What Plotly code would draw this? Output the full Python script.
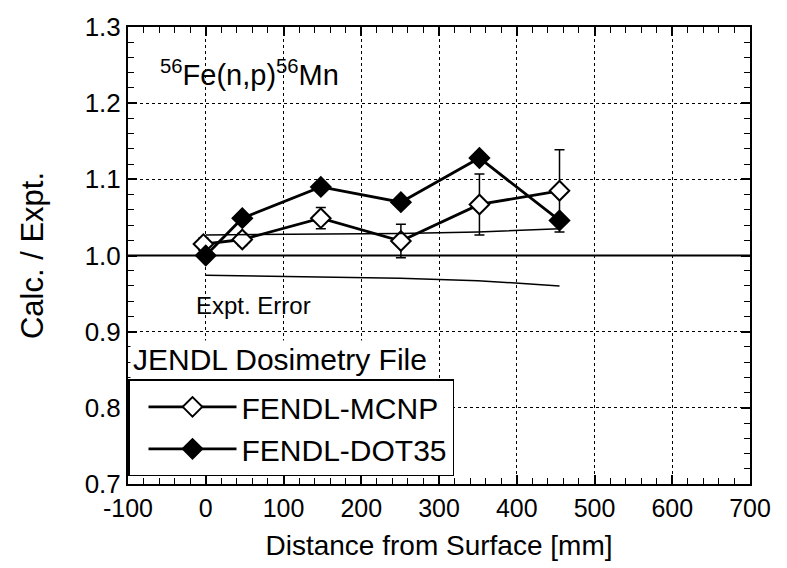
import plotly.graph_objects as go

# Distances from the assembly surface [mm] and calculated / experimental ratios
distance_mcnp = [-3, 47, 148, 251, 352, 455]
ratio_mcnp = [1.015, 1.021, 1.049, 1.019, 1.067, 1.085]
error_mcnp = [0.008, 0.008, 0.014, 0.022, 0.040, 0.054]

distance_dot = [0, 47, 148, 251, 352, 455]
ratio_dot = [1.000, 1.049, 1.090, 1.070, 1.128, 1.046]

# Experimental error band
expt_distance = [0, 150, 250, 350, 455]
expt_upper = [1.027, 1.028, 1.029, 1.031, 1.035]
expt_lower = [0.974, 0.972, 0.970, 0.967, 0.960]

x_ticks = [-100, 0, 100, 200, 300, 400, 500, 600, 700]
x_tick_labels = ["-100", "0", "100", "200", "300", "400", "500", "600", "700"]

FONT = "Liberation Sans, Arial, Helvetica, sans-serif"

fig = go.Figure()

# Unity reference line
fig.add_shape(type="line", xref="paper", x0=0, x1=1, yref="y", y0=1.0, y1=1.0,
              line=dict(color="black", width=2), layer="above")

# Error band lines live on the labelled overlay x axis (same range as x)
for band in (expt_upper, expt_lower):
    fig.add_trace(go.Scatter(
        x=expt_distance, y=band, mode="lines", xaxis="x2", yaxis="y",
        line=dict(color="black", width=1.5),
        showlegend=False, hoverinfo="skip"))

fig.add_trace(go.Scatter(
    x=distance_mcnp, y=ratio_mcnp, name="FENDL-MCNP",
    mode="lines+markers",
    line=dict(color="black", width=2.8),
    marker=dict(symbol="diamond", size=15, color="white",
                line=dict(color="black", width=2)),
    error_y=dict(type="data", array=error_mcnp, visible=True,
                 color="black", thickness=1.5, width=5),
))

fig.add_trace(go.Scatter(
    x=distance_dot, y=ratio_dot, name="FENDL-DOT35",
    mode="lines+markers",
    line=dict(color="black", width=2.8),
    marker=dict(symbol="diamond", size=15, color="black",
                line=dict(color="black", width=2)),
))

fig.add_annotation(x=-62, y=1.24, xref="x", yref="y", xanchor="left", yanchor="middle",
                   text="<sup>56</sup>Fe(n,p)<sup>56</sup>Mn", showarrow=False,
                   font=dict(size=29, color="black", family=FONT))
fig.add_annotation(x=-15, y=0.935, xref="x", yref="y", xanchor="left", yanchor="middle",
                   text="Expt. Error", showarrow=False,
                   font=dict(size=24, color="black", family=FONT))
fig.add_annotation(x=-98, y=0.864, xref="x", yref="y", xanchor="left", yanchor="middle",
                   text="JENDL Dosimetry File", showarrow=False, bgcolor="white",
                   borderpad=2, font=dict(size=30, color="black", family=FONT))

fig.update_layout(
    width=787, height=568,
    margin=dict(l=128, r=37, t=22, b=84),
    paper_bgcolor="white", plot_bgcolor="white",
    font=dict(family=FONT, color="black"),
    # main x axis: frame, grid and tick marks (labels come from xaxis2)
    xaxis=dict(
        range=[-100, 700], tickmode="linear", tick0=0, dtick=100,
        showticklabels=False,
        ticks="inside", ticklen=9, tickwidth=1.6, tickcolor="black",
        showline=True, linecolor="black", linewidth=2, mirror="ticks",
        showgrid=True, gridcolor="black", gridwidth=1, griddash="dot",
        zeroline=False,
        minor=dict(ticks="inside", ticklen=6, tickwidth=1.3, tickcolor="black",
                   dtick=20, tick0=0, showgrid=False),
    ),
    # overlay x axis carrying the tick labels (plain hyphen minus) and title
    xaxis2=dict(
        range=[-100, 700], overlaying="x", anchor="y", side="bottom",
        tickmode="array", tickvals=x_ticks, ticktext=x_tick_labels,
        ticks="", showline=False, showgrid=False, zeroline=False,
        ticklabelstandoff=7,
        tickfont=dict(size=25, color="black", family=FONT),
        title=dict(text="Distance from Surface [mm]", standoff=14,
                   font=dict(size=28, color="black", family=FONT)),
    ),
    yaxis=dict(
        range=[0.7, 1.3], tickmode="linear", tick0=0.7, dtick=0.1, tickformat=".1f",
        ticks="inside", ticklen=9, tickwidth=1.6, tickcolor="black",
        showline=True, linecolor="black", linewidth=2, mirror="ticks",
        showgrid=True, gridcolor="black", gridwidth=1, griddash="dot",
        zeroline=False,
        tickfont=dict(size=26, color="black", family=FONT),
        title=dict(text="Calc. / Expt.", standoff=32,
                   font=dict(size=31, color="black", family=FONT)),
        minor=dict(ticks="inside", ticklen=6, tickwidth=1.3, tickcolor="black",
                   dtick=0.02, tick0=0.7, showgrid=False),
    ),
    legend=dict(x=0, y=0.229, xanchor="left", yanchor="top",
                bgcolor="white", bordercolor="black", borderwidth=1.5,
                font=dict(size=30, color="black", family=FONT),
                itemwidth=88, indentation=14, tracegroupgap=0),
)

fig.write_html("out.html")
